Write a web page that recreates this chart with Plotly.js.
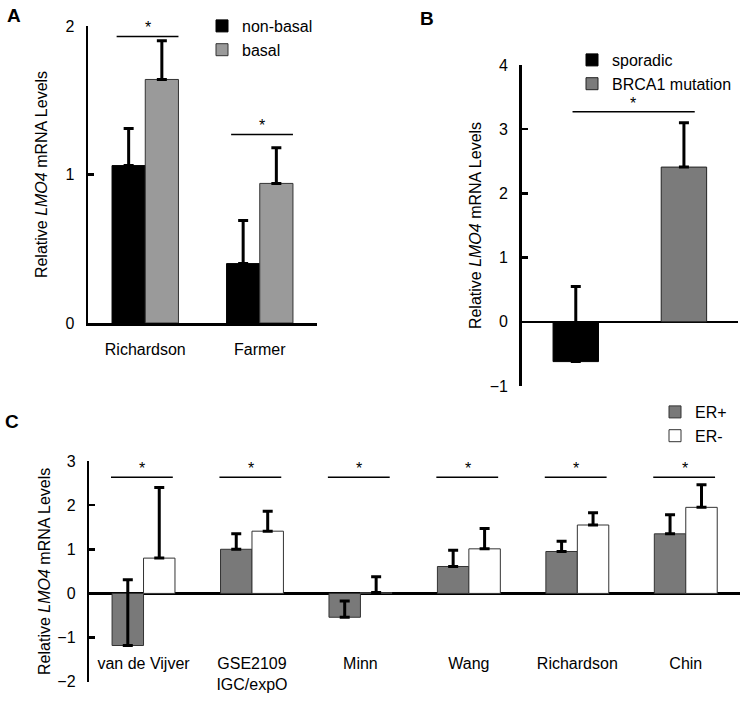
<!DOCTYPE html>
<html>
<head>
<meta charset="utf-8">
<script src="https://cdn.plot.ly/plotly-3.0.1.min.js"></script>
<style>html,body{margin:0;padding:0;background:#fff;}#chart{width:749px;height:702px;}</style>
</head>
<body>
<div id="chart"></div>
<script>
// ---------- Panel A data ----------
var catsA = ['Richardson', 'Farmer'];
var nonBasal = [1.06, 0.40];
var nonBasalErr = [0.25, 0.29];
var basal = [1.64, 0.94];
var basalErr = [0.26, 0.24];
var sigA = [1.93, 1.27];

// ---------- Panel B data ----------
var catsB = ['sporadic', 'BRCA1 mutation'];
var sporadic = [-0.62];
var sporadicErr = [1.17];
var brca1 = [2.41];
var brca1Err = [0.69];
var sigB = [3.27];

// ---------- Panel C data ----------
var catsC = ['van de Vijver', 'GSE2109<br>IGC/expO', 'Minn', 'Wang', 'Richardson', 'Chin'];
var erPos = [-1.18, 1.00, -0.54, 0.61, 0.95, 1.35];
var erPosErr = [1.49, 0.35, 0.37, 0.37, 0.23, 0.43];
var erNeg = [0.80, 1.41, 0.02, 1.01, 1.55, 1.95];
var erNegErr = [1.60, 0.45, 0.36, 0.46, 0.28, 0.51];
var sigC = [2.63, 2.63, 2.63, 2.63, 2.63, 2.63];

var W = 749, H = 702;
function px(x) { return x / W; }
function py(y) { return (H - y) / H; }
function zeros(n) { var a = []; for (var i = 0; i < n; i++) a.push(0); return a; }

var FONT = 'Arial, "Liberation Sans", Helvetica, sans-serif';

function errY(arr) {
  return {type: 'data', array: arr, arrayminus: zeros(arr.length), symmetric: false,
          visible: true, color: '#000', thickness: 3, width: 5};
}

var traces = [
  {type: 'bar', name: 'non-basal', x: catsA, y: nonBasal, xaxis: 'x', yaxis: 'y', legend: 'legend',
   marker: {color: '#000000', line: {color: '#000', width: 1}}, error_y: errY(nonBasalErr)},
  {type: 'bar', name: 'basal', x: catsA, y: basal, xaxis: 'x', yaxis: 'y', legend: 'legend',
   marker: {color: '#9a9a9a', line: {color: '#333', width: 1}}, error_y: errY(basalErr)},

  {type: 'bar', name: 'sporadic', x: [catsB[0]], y: sporadic, xaxis: 'x2', yaxis: 'y2', legend: 'legend2',
   offsetgroup: 'b', width: 0.42,
   marker: {color: '#000000', line: {color: '#000', width: 1}}, error_y: errY(sporadicErr)},
  {type: 'bar', name: 'BRCA1 mutation', x: [catsB[1]], y: brca1, xaxis: 'x2', yaxis: 'y2', legend: 'legend2',
   offsetgroup: 'b', width: 0.42,
   marker: {color: '#7b7b7b', line: {color: '#222', width: 1}}, error_y: errY(brca1Err)},

  {type: 'bar', name: 'ER+', x: catsC, y: erPos, xaxis: 'x3', yaxis: 'y3', legend: 'legend3',
   marker: {color: '#797979', line: {color: '#333', width: 1}}, error_y: errY(erPosErr)},
  {type: 'bar', name: 'ER-', x: catsC, y: erNeg, xaxis: 'x3', yaxis: 'y3', legend: 'legend3',
   marker: {color: '#ffffff', line: {color: '#333', width: 1}}, error_y: errY(erNegErr)}
];

var shapes = [];
var annotations = [];

function addSig(xref, yref, x0, x1, y, starX) {
  shapes.push({type: 'line', xref: xref, yref: yref, x0: x0, x1: x1, y0: y, y1: y,
               line: {color: '#000', width: 1.5}});
  annotations.push({xref: xref, yref: yref, x: starX, y: y, text: '*', showarrow: false,
                    yanchor: 'bottom', yshift: -2, font: {family: FONT, size: 16, color: '#000'}});
}
sigA.forEach(function (v, i) { addSig('x', 'y', i - 0.25, i + 0.29, v, i + 0.02); });
sigB.forEach(function (v) { addSig('x2', 'y2', -0.03, 1.1, v, 0.53); });
sigC.forEach(function (v, i) { addSig('x3', 'y3', i - 0.3, i + 0.27, v, i - 0.01); });

// panel letters
[['A', 14, 16], ['B', 427, 18], ['C', 12, 422]].forEach(function (p) {
  annotations.push({xref: 'paper', yref: 'paper', x: px(p[1]), y: py(p[2]), text: '<b>' + p[0] + '</b>',
                    showarrow: false, xanchor: 'center', yanchor: 'middle',
                    font: {family: FONT, size: 19, color: '#000'}});
});

var yTitle = 'Relative <i>LMO4</i> mRNA Levels';
var tickFont = {family: FONT, size: 16, color: '#000'};

function yax(anchor, domainTop, domainBottom, range, dtick, standoff, zero) {
  return {anchor: anchor, domain: [py(domainBottom), py(domainTop)], range: range, dtick: dtick, tick0: 0,
          showline: true, linecolor: '#000', linewidth: 2.5, mirror: false,
          ticks: 'inside', ticklen: 6, tickwidth: 2.5, tickcolor: '#000',
          showgrid: false, zeroline: zero, zerolinecolor: '#000', zerolinewidth: 2.5,
          ticklabelstandoff: 8,
          tickfont: tickFont,
          title: {text: yTitle, font: {family: FONT, size: 16, color: '#000'}, standoff: standoff}};
}

var layout = {
  width: W, height: H,
  margin: {l: 0, r: 0, t: 0, b: 0},
  paper_bgcolor: '#fff', plot_bgcolor: 'rgba(0,0,0,0)',
  font: {family: FONT, size: 16, color: '#000'},
  barmode: 'group', bargap: 0.42, bargroupgap: 0,
  showlegend: true,
  xaxis: {domain: [px(88), px(317)], anchor: 'y', type: 'category', range: [-0.5, 1.5],
          showline: true, linecolor: '#000', linewidth: 2.5, ticks: '', showgrid: false,
          tickfont: tickFont, ticklabelstandoff: 10},
  yaxis: yax('x', 26, 323, [0, 2], 1, 14, false),
  xaxis2: {domain: [px(521.7), px(738)], anchor: 'y2', type: 'category', range: [-0.5, 1.5],
           showline: false, ticks: '', showticklabels: false, showgrid: false},
  yaxis2: yax('x2', 65, 386, [-1, 4], 1, 4, true),
  xaxis3: {domain: [px(89.3), px(740)], anchor: 'free', position: py(652), type: 'category', range: [-0.5, 5.5],
           showline: false, ticks: '', showgrid: false, tickfont: tickFont, ticklabelstandoff: 0},
  yaxis3: yax('x3', 461, 681.7, [-2, 3], 1, 3, true),
  legend: {x: px(202), y: py(9), xanchor: 'left', yanchor: 'top', bgcolor: 'rgba(0,0,0,0)',
           font: {family: FONT, size: 16, color: '#000'}, tracegroupgap: 0},
  legend2: {x: px(572), y: py(43), xanchor: 'left', yanchor: 'top', bgcolor: 'rgba(0,0,0,0)',
            font: {family: FONT, size: 16, color: '#000'}, tracegroupgap: 0},
  legend3: {x: px(655), y: py(395), xanchor: 'left', yanchor: 'top', bgcolor: 'rgba(0,0,0,0)',
            font: {family: FONT, size: 16, color: '#000'}, tracegroupgap: 0},
  shapes: shapes,
  annotations: annotations
};

Plotly.newPlot('chart', traces, layout, {displayModeBar: false, staticPlot: true});
</script>
</body>
</html>
